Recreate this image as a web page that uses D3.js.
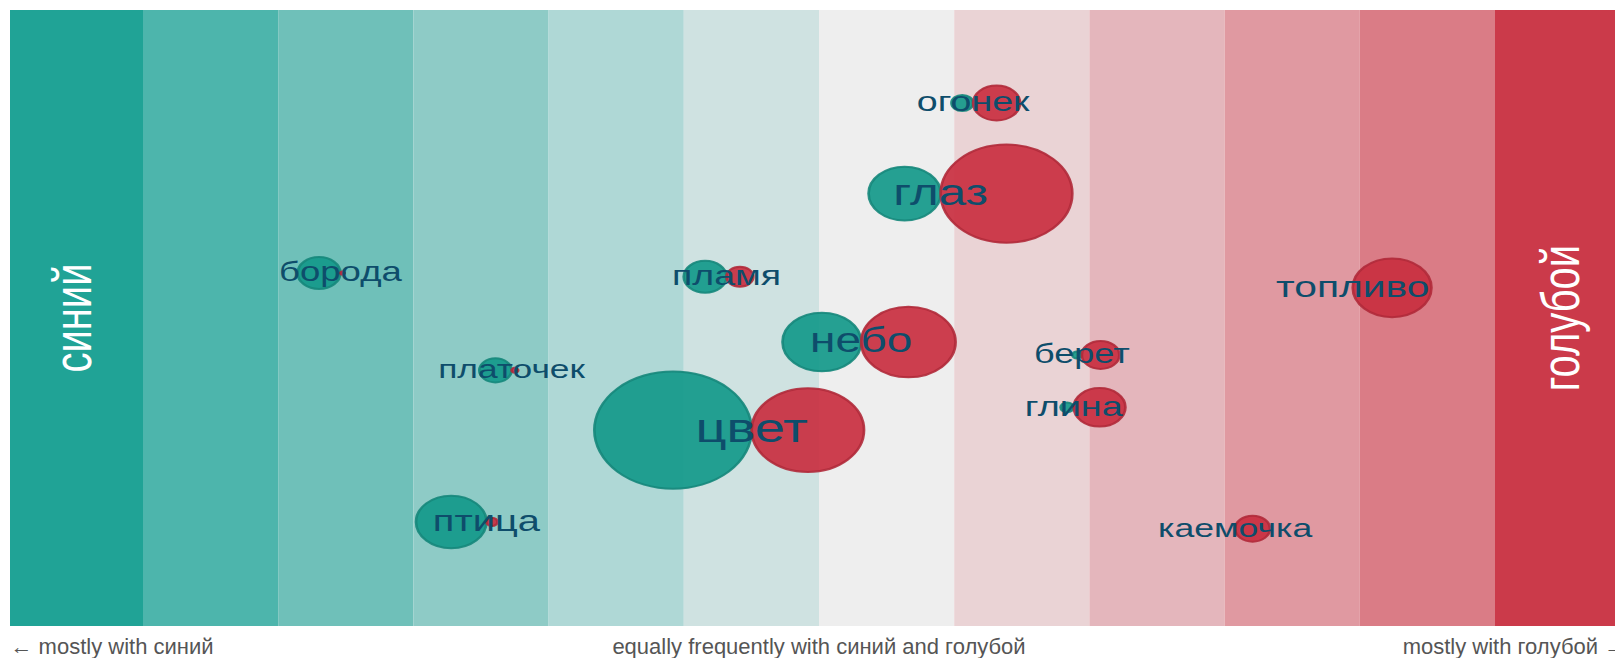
<!DOCTYPE html>
<html>
<head>
<meta charset="utf-8">
<script src="https://cdn.jsdelivr.net/npm/d3@7"></script>
<style>
  html, body { margin: 0; padding: 0; background: #fff; }
  svg { display: block; }
</style>
</head>
<body>
<svg id="chart" width="1615" height="658"></svg>
<script>
// ---- data ----
const words = ["огонек", "глаз", "борода", "пламя", "топливо", "небо", "берет", "платочек", "глина", "цвет", "птица", "каемочка"];
const sinijCounts   = [1.9, 21, 7.4, 7.4, 0, 25, 0.36, 4.2, 0.7, 100, 20, 0];
const golubojCounts = [8.9, 70, 0.07, 2.9, 25, 36, 5.7, 0.18, 10.8, 51, 0.5, 4.9];
const scores  = [0.190, 0.150, -0.590, -0.114, 0.658, 0.052, 0.324, -0.379, 0.314, -0.083, -0.410, 0.513];
const rowPos  = [15.1, 29.8, 42.7, 43.3, 45.1, 53.9, 56.0, 58.5, 64.5, 68.2, 83.1, 84.2];
const bandColors = ["#20a396", "#4db5ac", "#6fc0b9", "#8ecbc6", "#afd8d6", "#cfe2e1",
                    "#eeeeee", "#ead3d5", "#e4b6bc", "#e099a1", "#da7c86", "#cb3a4a"];
const sideLabels = ["синий", "голубой"];
const bottomLabels = ["← mostly with синий", "equally frequently with синий and голубой", "mostly with голубой →"];

// ---- layout ----
const W = 1615, H = 658;
const SX = 1.34;               // horizontal stretch of the drawing
const plotTop = 10, plotBottom = 626, plotLeft = 10;
const svg = d3.select("#chart");
const FONT = "'Liberation Sans', Arial, sans-serif";

const x = d3.scaleLinear().domain([-1, 1]).range([7.8, 1630.2]);
const y = d3.scaleLinear().domain([0, 100]).range([plotTop, plotBottom]);
const r = d3.scaleSqrt().domain([0, 100]).range([0, 58.7]);
const totals = words.map((w, i) => Math.sqrt(sinijCounts[i] + golubojCounts[i]));
const fontSize = d3.scaleLinear().domain([0, d3.max(totals)]).range([23.5, 40.5]);

svg.append("clipPath").attr("id", "plotclip")
  .append("rect").attr("x", plotLeft).attr("y", plotTop)
  .attr("width", W - plotLeft + 40).attr("height", plotBottom - plotTop);

const plot = svg.append("g").attr("clip-path", "url(#plotclip)");

// bands
const nb = bandColors.length;
const edges = d3.range(nb + 1).map(i => -1 + 2 * i / nb);
plot.selectAll("rect.band").data(bandColors).join("rect")
  .attr("class", "band")
  .attr("x", (c, i) => x(edges[i]))
  .attr("width", (c, i) => x(edges[i + 1]) - x(edges[i]))
  .attr("y", plotTop).attr("height", plotBottom - plotTop)
  .attr("fill", c => c);

// side labels
const sideCenters = [x((edges[0] + edges[1]) / 2), x((edges[nb - 1] + edges[nb]) / 2)];
plot.selectAll("text.side").data(sideLabels).join("text")
  .attr("class", "side")
  .attr("transform", (d, i) => `translate(${sideCenters[i]},${(plotTop + plotBottom) / 2}) scale(${SX},1) rotate(-90)`)
  .attr("text-anchor", "middle")
  .attr("dy", "0.3em")
  .attr("font-family", FONT)
  .attr("font-size", 40)
  .attr("fill", "#ffffff")
  .text(d => d);

// bubbles
const data = words.map((w, i) => ({
  word: w, s: sinijCounts[i], g: golubojCounts[i], score: scores[i], row: rowPos[i], tot: totals[i]
}));

const bub = plot.append("g");
data.forEach(d => {
  const cx = x(d.score), cy = y(d.row);
  const rt = r(d.s), rr = r(d.g);
  if (rt > 0) {
    bub.append("g").attr("transform", `translate(${cx - SX * rt},${cy}) scale(${SX},1)`)
      .append("circle").attr("r", rt)
      .attr("fill", "#14998a").attr("fill-opacity", 0.92)
      .attr("stroke", "#16877b").attr("stroke-width", 2).attr("stroke-opacity", 0.9);
  }
  if (rr > 0) {
    bub.append("g").attr("transform", `translate(${cx + SX * rr},${cy}) scale(${SX},1)`)
      .append("circle").attr("r", rr)
      .attr("fill", "#c92f40").attr("fill-opacity", 0.92)
      .attr("stroke", "#b02a3a").attr("stroke-width", 2).attr("stroke-opacity", 0.9);
  }
});

plot.selectAll("text.word").data(data).join("text")
  .attr("class", "word")
  .attr("transform", d => `translate(${x(d.score)},${y(d.row)}) scale(${SX},1)`)
  .attr("text-anchor", "middle")
  .attr("dy", "0.3em")
  .attr("font-family", FONT)
  .attr("font-size", d => fontSize(d.tot))
  .attr("fill", "#0e4d6b")
  .text(d => d.word);

// bottom labels
const bx = [plotLeft + 0.5, x(0), x(1) - 4];
const anchors = ["start", "middle", "end"];
svg.selectAll("text.bottom").data(bottomLabels).join("text")
  .attr("class", "bottom")
  .attr("x", (d, i) => bx[i])
  .attr("y", 654)
  .attr("text-anchor", (d, i) => anchors[i])
  .attr("font-family", FONT)
  .attr("font-size", 22)
  .attr("fill", "#555555")
  .text(d => d);
</script>
</body>
</html>
